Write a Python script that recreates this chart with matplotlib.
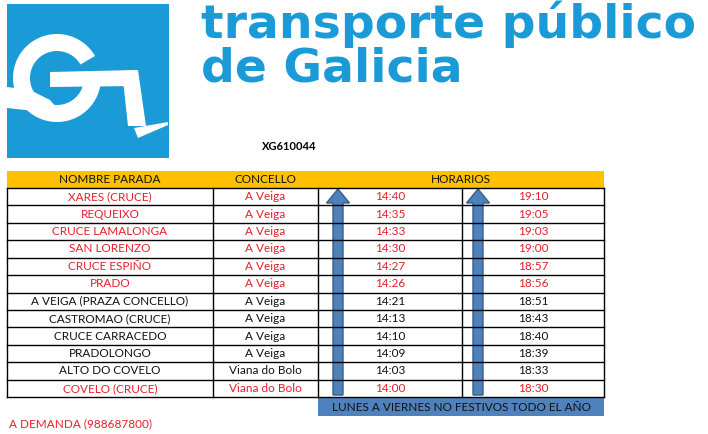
import numpy as np
import matplotlib
matplotlib.use("Agg")
import matplotlib.pyplot as plt
import matplotlib.patches as mpatches

# timetable data
stops = ["XARES (CRUCE)", "REQUEIXO", "CRUCE LAMALONGA", "SAN LORENZO",
         "CRUCE ESPIÑO", "PRADO", "A VEIGA (PRAZA CONCELLO)", "CASTROMAO (CRUCE)",
         "CRUCE CARRACEDO", "PRADOLONGO", "ALTO DO COVELO", "COVELO (CRUCE)"]
concellos = ["A Veiga"] * 10 + ["Viana do Bolo"] * 2
times_1 = ["14:40", "14:35", "14:33", "14:30", "14:27", "14:26",
           "14:21", "14:13", "14:10", "14:09", "14:03", "14:00"]
times_2 = ["19:10", "19:05", "19:03", "19:00", "18:57", "18:56",
           "18:51", "18:43", "18:40", "18:39", "18:33", "18:30"]
red_rows = [True] * 6 + [False] * 5 + [True]

headers = ["NOMBRE PARADA", "CONCELLO", "HORARIOS"]
line_code = "XG610044"
footer = "LUNES A VIERNES NO FESTIVOS TODO EL AÑO"
note = "A DEMANDA (988687800)"

BLUE = "#1B9AD8"
RED = "#E3202A"
ORANGE = "#FFC000"
BOX = "#4F81BD"
TXT = "Lato"

fig = plt.figure(figsize=(7.08, 4.34), dpi=100)
ax = fig.add_axes([0, 0, 1, 1])
ax.set_xlim(0, 708)
ax.set_ylim(434, 0)
ax.axis("off")

# ---- logo ----
ax.add_patch(mpatches.Rectangle((7, 4), 162, 154, color=BLUE, lw=0))
cx, cy, r_out, r_in = 57, 78, 44, 27
t = np.radians(np.linspace(30, 350, 120))
outer = np.c_[cx + r_out * np.cos(t), cy - r_out * np.sin(t)]
inner = np.c_[cx + r_in * np.cos(t[::-1]), cy - r_in * np.sin(t[::-1])]
ax.add_patch(mpatches.Polygon(np.vstack([outer, inner]), color="white", lw=0))
ax.add_patch(mpatches.Polygon([(50, 72), (137, 70), (137, 86), (50, 87)], color="white", lw=0))
ax.add_patch(mpatches.Polygon([(122, 71), (138, 70), (146, 126), (128, 126)], color="white", lw=0))
ax.add_patch(mpatches.Polygon([(134, 128), (168, 122), (168, 125), (138, 138)], color="white", lw=0))
ax.add_patch(mpatches.Polygon([(7, 87), (30, 90), (50, 100), (62, 114), (7, 108)],
                              color="white", lw=0))

ax.text(201, 38, "transporte público", fontsize=34, fontweight="bold",
        family="DejaVu Sans", color=BLUE, ha="left", va="baseline")
ax.text(201, 81, "de Galicia", fontsize=34, fontweight="bold",
        family="DejaVu Sans", color=BLUE, ha="left", va="baseline")

ax.text(289, 146, line_code, fontsize=8, fontweight="bold", family=TXT,
        color="black", ha="center", va="center")

# ---- table ----
col_x = [7, 213, 318, 462, 604]
top_header, top_rows, row_h = 171, 188, 17.42
n = len(stops)
bottom = top_rows + n * row_h

ax.add_patch(mpatches.Rectangle((col_x[0], top_header), col_x[-1] - col_x[0],
                                top_rows - top_header, color=ORANGE, lw=0))
ax.text((col_x[0] + col_x[1]) / 2, (top_header + top_rows) / 2, headers[0],
        fontsize=8.5, family=TXT, ha="center", va="center", color="#111111")
ax.text((col_x[1] + col_x[2]) / 2, (top_header + top_rows) / 2, headers[1],
        fontsize=8.5, family=TXT, ha="center", va="center", color="#111111")
ax.text((col_x[2] + col_x[4]) / 2, (top_header + top_rows) / 2, headers[2],
        fontsize=8.5, family=TXT, ha="center", va="center", color="#111111")

for i in range(n):
    yc = top_rows + (i + 0.5) * row_h
    c = RED if red_rows[i] else "#111111"
    vals = [stops[i], concellos[i], times_1[i], times_2[i]]
    for j, v in enumerate(vals):
        xc = (col_x[j] + col_x[j + 1]) / 2
        ax.text(xc, yc, v, fontsize=8.5, family=TXT, color=c, ha="center", va="center")

for i in range(n + 1):
    y = top_rows + i * row_h
    ax.plot([col_x[0], col_x[-1]], [y, y], color="black", lw=1.0)
for x in col_x:
    ax.plot([x, x], [top_rows, bottom], color="black", lw=1.0)

# arrows
for ax_x in [338, 478]:
    ax.add_patch(mpatches.FancyArrow(ax_x, bottom - 2, 0, -(bottom - 2 - 189),
                                     width=10, head_width=23, head_length=14,
                                     length_includes_head=True,
                                     facecolor=BOX, edgecolor="#385D8A", lw=1.0))

# footer box
ax.add_patch(mpatches.Rectangle((col_x[2], bottom + 1), col_x[-1] - col_x[2], 18,
                                color=BOX, lw=0))
ax.text((col_x[2] + col_x[-1]) / 2, bottom + 10, footer, fontsize=8.5, family=TXT,
        color="#111111", ha="center", va="center")

ax.text(9, 424, note, fontsize=8.5, family=TXT, color=RED, ha="left", va="center")

fig.savefig("out.png", dpi=100)
